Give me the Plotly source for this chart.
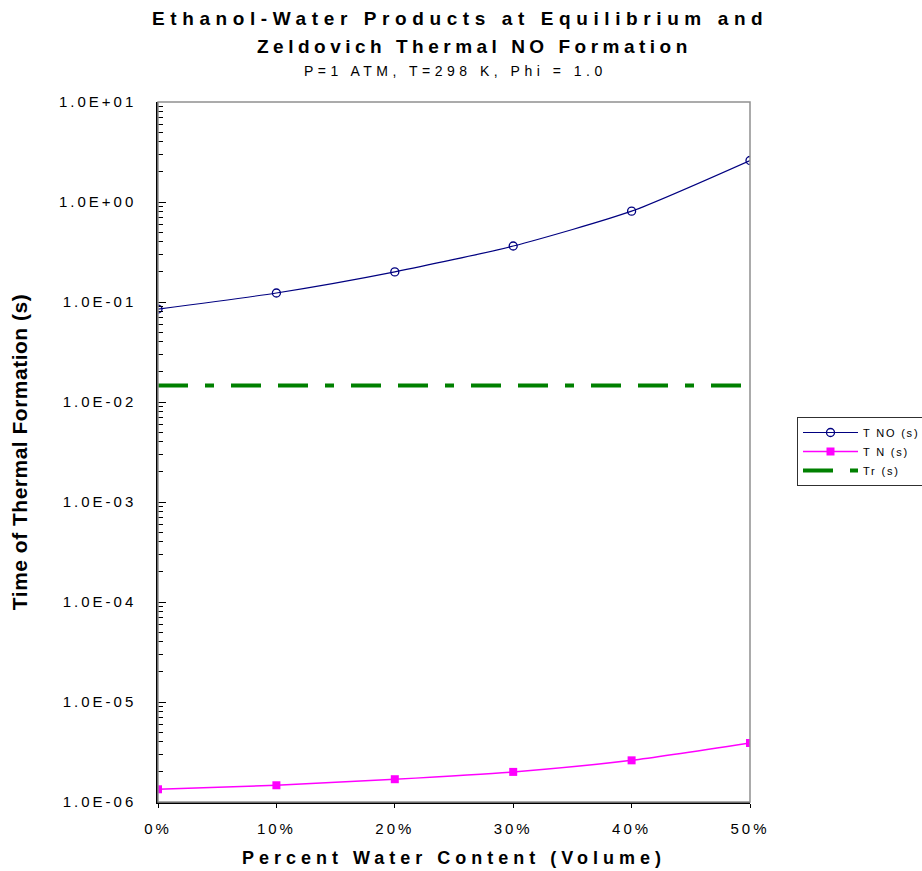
import plotly.graph_objects as go

water_pct = [0, 10, 20, 30, 40, 50]
x_ticktext = ["0%", "10%", "20%", "30%", "40%", "50%"]
t_no = [0.085, 0.123, 0.20, 0.363, 0.81, 2.6]
t_n = [1.34e-6, 1.47e-6, 1.69e-6, 2.0e-6, 2.61e-6, 3.89e-6]
tr_x = [0, 50]
tr_y = [0.0146, 0.0146]

y_tickvals = [1e1, 1e0, 1e-1, 1e-2, 1e-3, 1e-4, 1e-5, 1e-6]
y_ticktext = ["1.0E+01", "1.0E+00", "1.0E-01", "1.0E-02", "1.0E-03", "1.0E-04", "1.0E-05", "1.0E-06"]
minor_vals = [m * 10.0 ** e for e in range(-6, 1) for m in range(2, 10)]

FONT = "Liberation Sans, Arial, sans-serif"

def sp(text, ls):
    return f'<span style="letter-spacing:{ls}px">{text}</span>'

fig = go.Figure()
fig.add_trace(go.Scatter(
    x=water_pct, y=t_no, name=sp("T NO (s)", 1.8), mode="lines+markers",
    line=dict(color="#000080", width=1.2, shape="spline", smoothing=0.6),
    marker=dict(symbol="circle-open", size=8, color="#000080", line=dict(width=1.3)),
))
fig.add_trace(go.Scatter(
    x=water_pct, y=t_n, name=sp("T N (s)", 1.8), mode="lines+markers",
    line=dict(color="#FF00FF", width=1.5, shape="spline", smoothing=0.6),
    marker=dict(symbol="square", size=8, color="#FF00FF"),
))
fig.add_trace(go.Scatter(
    x=tr_x, y=tr_y, name=sp("Tr (s)", 1.8), mode="lines",
    line=dict(color="#008000", width=4, dash="30px,17px,9px,17px,30px,17px"),
))
# invisible trace on overlay axis to carry minor ticks
fig.add_trace(go.Scatter(x=[None], y=[None], yaxis="y2", showlegend=False, hoverinfo="skip"))

fig.add_shape(type="rect", xref="paper", yref="paper", x0=0, y0=0, x1=1, y1=1,
              line=dict(color="#909090", width=1.5), layer="above")

fig.update_layout(
    width=922, height=871,
    margin=dict(l=158, r=172, t=102, b=69, autoexpand=False),
    paper_bgcolor="white", plot_bgcolor="white",
    font=dict(family=FONT, color="black", size=14),
    showlegend=True,
    legend=dict(x=(797 - 158) / 592, y=(802 - 417) / 700, xanchor="left", yanchor="top",
                bordercolor="#303030", borderwidth=1, bgcolor="white",
                font=dict(size=11, family=FONT), tracegroupgap=0, itemwidth=55),
    xaxis=dict(range=[0, 50], tickmode="array", tickvals=water_pct,
               ticktext=[sp(t, 3) for t in x_ticktext],
               showgrid=False, zeroline=False, showline=True, linecolor="black", linewidth=1.5,
               ticks="outside", ticklen=4, tickcolor="black", ticklabelstandoff=8,
               tickfont=dict(size=15, family=FONT),
               title=dict(text=sp("<b>Percent Water Content (Volume)</b>", 5),
                          font=dict(size=18, family=FONT), standoff=16)),
    yaxis=dict(type="log", range=[-6, 1], tickmode="array", tickvals=y_tickvals,
               ticktext=[sp(t, 3) for t in y_ticktext],
               showgrid=False, zeroline=False, showline=True, linecolor="black", linewidth=1.5,
               ticks="inside", ticklen=8, tickcolor="black", ticklabelstandoff=17,
               tickfont=dict(size=15, family=FONT),
               title=dict(text=sp("<b>Time of Thermal Formation (s)</b>", 0.5),
                          font=dict(size=21, family=FONT), standoff=26)),
    yaxis2=dict(type="log", range=[-6, 1], overlaying="y", side="left", anchor="x",
                tickmode="array", tickvals=minor_vals, ticktext=[""] * len(minor_vals),
                showgrid=False, zeroline=False, showline=False,
                ticks="inside", ticklen=5, tickcolor="black", showticklabels=False),
)

fig.add_annotation(xref="paper", yref="paper", x=0.51, y=1.0, yshift=84, xanchor="center", yanchor="middle",
                   showarrow=False, text=sp("<b>Ethanol-Water Products at Equilibrium and</b>", 5.6),
                   font=dict(size=19, family=FONT))
fig.add_annotation(xref="paper", yref="paper", x=0.535, y=1.0, yshift=56, xanchor="center", yanchor="middle",
                   showarrow=False, text=sp("<b>Zeldovich Thermal NO Formation</b>", 4.5),
                   font=dict(size=19, family=FONT))
fig.add_annotation(xref="paper", yref="paper", x=0.503, y=1.0, yshift=31, xanchor="center", yanchor="middle",
                   showarrow=False, text=sp("P=1 ATM, T=298 K, Phi = 1.0", 4.5),
                   font=dict(size=14, family=FONT))

fig.write_html("out.html")
